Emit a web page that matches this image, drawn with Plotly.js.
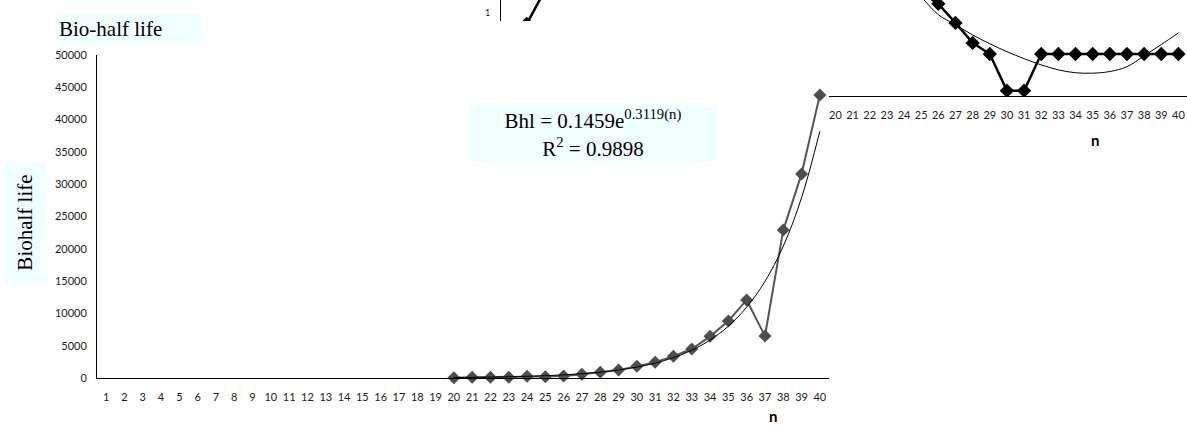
<!DOCTYPE html>
<html>
<head>
<meta charset="utf-8">
<script src="https://cdn.plot.ly/plotly-3.0.1.min.js"></script>
<style>
  html, body { margin: 0; padding: 0; background: #ffffff; }
  #chart { width: 1187px; height: 427px; }
</style>
</head>
<body>
<div id="chart"></div>
<script>
// ---------- data ----------
const nCategories = [1,2,3,4,5,6,7,8,9,10,11,12,13,14,15,16,17,18,19,20,
                     21,22,23,24,25,26,27,28,29,30,31,32,33,34,35,36,37,38,39,40];
const nTickLabels = nCategories.map(String);

// main chart: bio-half life vs n
const mainN = [20,21,22,23,24,25,26,27,28,29,30,31,32,33,34,35,36,37,38,39,40];
const bioHalfLife = [50,100,100,100,260,200,300,570,880,1240,1800,2430,3360,4490,6450,8820,12080,6500,22900,31580,43800];
const bioHalfLifeTrend = [75,102,140,191,260,355,485,662,904,1235,1690,2305,3150,4300,5870,8020,10950,14950,20400,27900,38200];
const mainYTicks = [0,5000,10000,15000,20000,25000,30000,35000,40000,45000,50000];

// partly hidden chart behind (top right); only n = 20..40 labels show
const insetTickN = [20,21,22,23,24,25,26,27,28,29,30,31,32,33,34,35,36,37,38,39,40];
const insetN = [2,3,25,26,27,28,29,30,31,32,33,34,35,36,37,38,39,40];
const insetValues = [0.87,1.25,1.25,1.11,0.88,0.64,0.506,0.064,0.064,0.506,0.506,0.506,0.506,0.506,0.506,0.506,0.506,0.506];
const insetTrendN = [25,26,27,28,29,30,31,32,33,34,35,36,37,38,39,40];
const insetTrend = [1.2,0.98,0.86,0.735,0.63,0.534,0.45,0.375,0.315,0.28,0.275,0.295,0.353,0.485,0.62,0.76];
const insetYTicks = [1];

// ---------- layout helpers (pixel -> paper) ----------
const W = 1187, H = 427;
const px = v => v / W;
const py = v => 1 - v / H;

const sans = '"Lato", "Open Sans", sans-serif';
const serif = '"Liberation Serif", "Times New Roman", "DejaVu Serif", serif';
const tickFont = { family: sans, size: 11, color: '#1a1a1a' };
const boxColor = '#F0FFFF';

const traces = [
  // inset (drawn first, underneath)
  { x: insetTrendN, y: insetTrend, xaxis: 'x', yaxis: 'y', type: 'scatter', mode: 'lines',
    line: { color: '#000000', width: 1, shape: 'spline' }, hoverinfo: 'skip', showlegend: false },
  { x: insetN, y: insetValues, xaxis: 'x', yaxis: 'y', type: 'scatter', mode: 'lines+markers',
    line: { color: '#000000', width: 2.5 }, marker: { symbol: 'diamond', size: 11, color: '#000000' },
    hoverinfo: 'skip', showlegend: false },
  // cover (empty subplot whose white background hides the rest of the inset)
  { x: [], y: [], xaxis: 'x2', yaxis: 'y2', type: 'scatter', mode: 'markers', hoverinfo: 'skip', showlegend: false },
  // main chart
  { x: mainN, y: bioHalfLife, xaxis: 'x3', yaxis: 'y3', type: 'scatter', mode: 'lines+markers',
    line: { color: '#555555', width: 2 }, marker: { symbol: 'diamond', size: 10, color: '#4d4d4d' },
    cliponaxis: false, hoverinfo: 'skip', showlegend: false },
  { x: mainN, y: bioHalfLifeTrend, xaxis: 'x3', yaxis: 'y3', type: 'scatter', mode: 'lines',
    line: { color: '#000000', width: 1, shape: 'spline' }, cliponaxis: false, hoverinfo: 'skip', showlegend: false }
];

const layout = {
  width: W, height: H,
  margin: { l: 0, r: 0, t: 0, b: 0, pad: 0 },
  paper_bgcolor: '#ffffff', plot_bgcolor: '#ffffff',
  showlegend: false,
  xaxis: {
    domain: [px(501), 1], anchor: 'y', range: [0.5, 40.5],
    tickmode: 'array', tickvals: insetTickN, ticktext: insetTickN.map(String),
    showline: true, linecolor: '#000000', linewidth: 1, ticks: '',
    showgrid: false, zeroline: false, tickfont: tickFont, ticklabelstandoff: 9, fixedrange: true
  },
  yaxis: {
    domain: [py(96), 1], anchor: 'x', range: [0, 96 / 83],
    tickmode: 'array', tickvals: insetYTicks, ticktext: insetYTicks.map(String),
    showline: true, linecolor: '#000000', linewidth: 1, ticks: '',
    showgrid: false, zeroline: false, tickfont: { family: sans, size: 9, color: '#1a1a1a' },
    ticklabelstandoff: 8, fixedrange: true
  },
  xaxis2: { domain: [0, px(829)], anchor: 'y2', visible: false, range: [0, 1], fixedrange: true },
  yaxis2: { domain: [0, py(21)], anchor: 'x2', visible: false, range: [0, 1], fixedrange: true },
  xaxis3: {
    domain: [px(97), px(829)], anchor: 'y3', range: [0.5, 40.5],
    tickmode: 'array', tickvals: nCategories, ticktext: nTickLabels,
    showline: true, linecolor: '#000000', linewidth: 1, ticks: '',
    showgrid: false, zeroline: false, tickfont: tickFont, ticklabelstandoff: 9, fixedrange: true
  },
  yaxis3: {
    domain: [py(378), py(55)], anchor: 'x3', range: [0, 50000],
    tickmode: 'array', tickvals: mainYTicks, ticktext: mainYTicks.map(String),
    showline: true, linecolor: '#000000', linewidth: 1, ticks: '',
    showgrid: false, zeroline: false, tickfont: { family: sans, size: 11, color: '#1a1a1a' },
    ticklabelstandoff: 7, fixedrange: true
  },
  annotations: [
    { xref: 'paper', yref: 'paper', x: px(58), y: py(13), xanchor: 'left', yanchor: 'top',
      text: 'Bio-half life', showarrow: false, align: 'left', width: 142, height: 30,
      bgcolor: boxColor, borderpad: 0, font: { family: serif, size: 21, color: '#000000' } },
    { xref: 'paper', yref: 'paper', x: px(24.5), y: py(223), xanchor: 'center', yanchor: 'middle',
      text: 'Biohalf life', textangle: -90, showarrow: false, width: 120, height: 41,
      bgcolor: boxColor, borderpad: 0, font: { family: serif, size: 21, color: '#000000' } },
    { xref: 'paper', yref: 'paper', x: px(593), y: py(133.5), xanchor: 'center', yanchor: 'middle',
      text: 'Bhl = 0.1459e<sup>0.3119(n)</sup><br>R<sup>2</sup> = 0.9898', showarrow: false,
      width: 248, height: 55, bgcolor: boxColor, borderpad: 0, align: 'center',
      font: { family: serif, size: 21, color: '#000000' } },
    { xref: 'paper', yref: 'paper', x: px(773), y: 0, xanchor: 'center', yanchor: 'bottom',
      text: '<b>n</b>', showarrow: false, font: { family: sans, size: 15, color: '#000000' } },
    { xref: 'paper', yref: 'paper', x: px(1095), y: py(140), xanchor: 'center', yanchor: 'middle',
      text: '<b>n</b>', showarrow: false, font: { family: sans, size: 15, color: '#000000' } }
  ]
};

Plotly.newPlot('chart', traces, layout, { displayModeBar: false, staticPlot: true });
</script>
</body>
</html>
